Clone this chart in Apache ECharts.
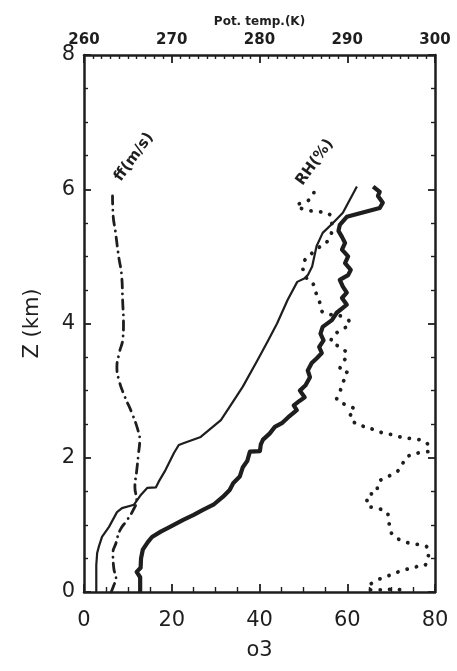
<!DOCTYPE html>
<html>
<head>
<meta charset="utf-8">
<script src="https://cdn.jsdelivr.net/npm/echarts@6/dist/echarts.min.js"></script>
<style>
  html, body { margin: 0; padding: 0; background: #fff; }
  #chart { width: 457px; height: 671px; }
</style>
</head>
<body>
<div id="chart"></div>
<script>
// Vertical profiles: [value, height in km]
// Ozone (bottom axis)
const o3Profile = [
  [12.8,0],[12.8,0.22],[12.0,0.3],[12.9,0.36],[13.0,0.5],[13.4,0.63],[14.5,0.74],[15.5,0.82],
  [17.5,0.9],[19.6,0.97],[22.5,1.07],[25,1.15],[27,1.22],[29.5,1.3],[31.7,1.42],[33.2,1.52],
  [34,1.62],[35.5,1.72],[36.2,1.86],[37.2,1.95],[37.8,2.09],[40.1,2.1],[40.3,2.2],[40.8,2.27],
  [42.3,2.36],[43.5,2.46],[45.2,2.52],[46.5,2.6],[48.5,2.71],[47.8,2.78],[49.2,2.85],[50.3,2.9],
  [49.2,3.0],[50.5,3.08],[51.5,3.2],[51.0,3.3],[51.9,3.41],[53.0,3.48],[54.2,3.56],[53.6,3.65],
  [54.6,3.75],[53.9,3.85],[54.4,3.95],[56.5,4.05],[57.6,4.16],[59.9,4.28],[58.8,4.38],[59.9,4.46],
  [59.0,4.55],[58.3,4.65],[60.2,4.72],[60.8,4.8],[59.5,4.9],[60.2,5.0],[58.8,5.1],[59.5,5.2],
  [58.8,5.29],[58.0,5.38],[58.3,5.47],[59.9,5.59],[67.4,5.72],[68.1,5.8],[67.0,5.9],[67.4,5.96],
  [65.9,6.04]
];
// Potential temperature (top axis, K)
const thetaProfile = [
  [261.4,0],[261.4,0.4],[261.5,0.58],[261.7,0.68],[262.05,0.82],[262.85,0.97],[263.76,1.19],
  [264.33,1.25],[265.7,1.3],[266.5,1.45],[267.2,1.55],[268.2,1.56],[268.5,1.64],[269.3,1.82],
  [270.25,2.07],[270.8,2.19],[271.4,2.22],[273.3,2.31],[274.5,2.44],[275.6,2.56],[276.8,2.8],
  [278.1,3.06],[279.8,3.46],[281,3.75],[282,4.0],[283.2,4.35],[284.3,4.62],[285.1,4.67],
  [285.5,4.72],[286,4.85],[286.5,5.15],[287.2,5.35],[288.4,5.5],[289.5,5.65],[291.1,6.04]
];
// Relative humidity (bottom axis, %)
const rhProfile = [
  [52.4,5.95],[51.5,5.85],[48.5,5.75],[50.3,5.7],[52.6,5.67],[55.4,5.65],[56.5,5.45],[56,5.28],
  [52,5.05],[49.9,4.85],[50.3,4.72],[52.6,4.55],[53,4.43],[53.8,4.3],[54.4,4.17],[59,4.1],
  [60.6,4.0],[57.9,3.88],[56.3,3.73],[58.3,3.65],[59.9,3.53],[59,3.42],[58.3,3.31],[60,3.26],
  [59,3.12],[58.3,2.98],[57.6,2.88],[59.9,2.78],[61.7,2.71],[60.6,2.61],[61.5,2.53],[63.6,2.47],
  [66,2.42],[68.1,2.37],[70.4,2.34],[72.7,2.3],[75,2.28],[77.7,2.24],[78.8,2.12],[76.1,2.07],
  [73.6,2.01],[72.5,1.9],[71.3,1.79],[69,1.71],[67,1.62],[66.7,1.49],[64.5,1.43],[64.5,1.3],
  [66.7,1.25],[69,1.19],[69.4,1.1],[69.7,0.97],[70.4,0.85],[72.7,0.76],[74.9,0.72],[77.7,0.69],
  [78.5,0.6],[78.1,0.43],[75.4,0.37],[73.1,0.33],[70.8,0.28],[68.6,0.22],[66.3,0.16],[64.7,0.06],
  [66.5,0.03],[70,0.04],[73.5,0.02]
];
// Wind speed (bottom axis, m/s)
const ffProfile = [
  [6.2,0],[6.8,0.1],[7.3,0.2],[6.8,0.35],[6.6,0.58],[7.3,0.73],[8.2,0.92],[9.8,1.07],[11.2,1.22],
  [12.0,1.37],[11.6,1.56],[12.0,1.8],[12.4,2.05],[12.7,2.27],[12.3,2.41],[10.9,2.67],[9.3,2.91],
  [8.0,3.15],[7.5,3.35],[8.0,3.55],[8.9,3.8],[9.0,4.0],[8.8,4.35],[8.6,4.7],[7.9,5.0],[7.2,5.35],
  [6.6,5.65],[6.5,5.9]
];
// Axis ranges and titles
const o3Range = [0, 80];
const thetaRange = [260, 300];
const zRange = [0, 8];
const bottomTitle = 'o3';
const topTitle = 'Pot. temp.(K)';
const leftTitle = 'Z (km)';
// Curve annotations: [text, o3 value, height]
const curveLabels = [
  ['ff(m/s)', 11.4, 6.48],
  ['RH(%)', 52.6, 6.4]
];

const ink = '#1e1e1e';
const font = 'DejaVu Sans';

// Ticks point into the plot: outward ticks with negative length
function frame(extra) {
  return Object.assign({
    type: 'value',
    axisLine: { show: true, onZero: false, lineStyle: { color: ink, width: 2.5 } },
    splitLine: { show: false }
  }, extra);
}
function ticks(major, minor, split) {
  return {
    axisTick: { show: true, inside: false, length: -major, lineStyle: { color: ink, width: 1.8 } },
    minorTick: { show: true, splitNumber: split, length: -minor, lineStyle: { color: ink, width: 1.4 } }
  };
}

const chart = echarts.init(document.getElementById('chart'), null, { renderer: 'canvas' });

chart.setOption({
  backgroundColor: '#ffffff',
  animation: false,
  grid: { left: 84, right: 22, top: 55, bottom: 79 },
  xAxis: [
    frame(Object.assign({
      position: 'bottom', min: o3Range[0], max: o3Range[1], interval: 20,
      axisLabel: { color: ink, fontFamily: font, fontSize: 21, margin: 18 },
      name: bottomTitle, nameLocation: 'middle', nameGap: 48,
      nameTextStyle: { color: ink, fontFamily: font, fontSize: 21 }
    }, ticks(8, 5, 4))),
    frame(Object.assign({
      position: 'top', min: thetaRange[0], max: thetaRange[1], interval: 10,
      axisLabel: { color: ink, fontFamily: font, fontSize: 15, fontWeight: 'bold', margin: 7 },
      name: topTitle, nameLocation: 'middle', nameGap: 24,
      nameTextStyle: { color: ink, fontFamily: font, fontSize: 12, fontWeight: 'bold' }
    }, ticks(8, 4, 10)))
  ],
  yAxis: [
    frame(Object.assign({
      position: 'left', min: zRange[0], max: zRange[1], interval: 2,
      axisLabel: { color: ink, fontFamily: font, fontSize: 21, margin: 9 },
      name: leftTitle, nameLocation: 'middle', nameGap: 41, nameRotate: 90,
      nameTextStyle: { color: ink, fontFamily: font, fontSize: 21 }
    }, ticks(7, 4, 4))),
    frame(Object.assign({
      position: 'right', min: zRange[0], max: zRange[1], interval: 2,
      axisLabel: { show: false }
    }, ticks(7, 4, 4)))
  ],
  series: [
    {
      name: 'o3', type: 'line', xAxisIndex: 0, yAxisIndex: 0, data: o3Profile,
      showSymbol: false, symbol: 'none', smooth: false,
      lineStyle: { color: ink, width: 4.2, join: 'round' }
    },
    {
      name: 'theta', type: 'line', xAxisIndex: 1, yAxisIndex: 0, data: thetaProfile,
      showSymbol: false, symbol: 'none', smooth: false,
      lineStyle: { color: ink, width: 2.2, join: 'round' }
    },
    {
      name: 'RH', type: 'line', xAxisIndex: 0, yAxisIndex: 0, data: rhProfile,
      showSymbol: false, symbol: 'none', smooth: true,
      lineStyle: { color: ink, width: 3.8, type: [0.1, 9.5], cap: 'round' }
    },
    {
      name: 'ff', type: 'line', xAxisIndex: 0, yAxisIndex: 0, data: ffProfile,
      showSymbol: false, symbol: 'none', smooth: true,
      lineStyle: { color: ink, width: 2.8, type: [9, 6, 0.1, 6], cap: 'round' }
    }
  ]
});

// Rotated annotations placed at data coordinates
const graphics = curveLabels.map(([text, x, z]) => {
  const p = chart.convertToPixel({ xAxisIndex: 0, yAxisIndex: 0 }, [x, z]);
  return {
    type: 'text', x: p[0], y: p[1], rotation: 54 * Math.PI / 180,
    style: {
      text, fill: ink, font: 'bold 15px "DejaVu Sans"',
      textAlign: 'center', textVerticalAlign: 'middle'
    }
  };
});
chart.setOption({ graphic: graphics });
</script>
</body>
</html>
